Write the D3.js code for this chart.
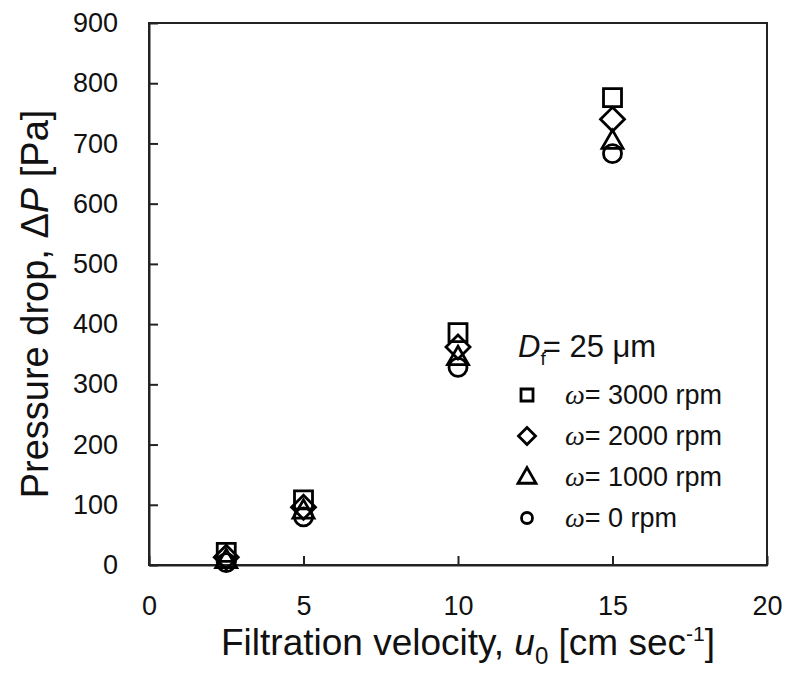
<!DOCTYPE html>
<html>
  <head>
    <meta charset="UTF-8">
    <style>
      body {
        margin: 0;
        background: #fff;
        font-family: 'Liberation Sans', Arial, sans-serif;
      }

      .tick text {
        font-size: 27px;
        fill: #111;
      }
    </style>
    <script src="https://d3js.org/d3.v7.min.js"></script>
  </head>

  <body>
    <svg id="chart"></svg>

    <script type="text/javascript">
      let velocities = [2.5, 5, 10, 15]
      let seriesNames = ['3000', '2000', '1000', '0']
      let rpm3000 = [21, 108, 386, 776]
      let rpm2000 = [13, 96, 362, 740]
      let rpm1000 = [8, 90, 345, 704]
      let rpm0 = [4, 80, 328, 683]
      let xTicks = [0, 5, 10, 15, 20]
      let yTicks = [0, 100, 200, 300, 400, 500, 600, 700, 800, 900]

      let series = [
        {name: seriesNames[0], values: rpm3000, shape: 'square'},
        {name: seriesNames[1], values: rpm2000, shape: 'diamond'},
        {name: seriesNames[2], values: rpm1000, shape: 'triangle'},
        {name: seriesNames[3], values: rpm0, shape: 'circle'},
      ]

      function getConfig() {
        let width = 788
        let height = 677
        let margin = {top: 23, bottom: 112, left: 149, right: 21}
        let bodyWidth = width - margin.left - margin.right
        let bodyHeight = height - margin.top - margin.bottom
        let container = d3.select('#chart')
          .attr('width', width)
          .attr('height', height)
        return {width, height, margin, bodyWidth, bodyHeight, container}
      }

      function getScales(config) {
        let xScale = d3.scaleLinear().domain([0, 20]).range([0, config.bodyWidth])
        let yScale = d3.scaleLinear().domain([0, 900]).range([config.bodyHeight, 0])
        return {xScale, yScale}
      }

      // marker path centred on 0,0 with size s (approx width)
      function markerPath(shape, s) {
        let h = s / 2
        if (shape == 'square') return `M${-h},${-h}H${h}V${h}H${-h}Z`
        if (shape == 'diamond') return `M0,${-h}L${h},0L0,${h}L${-h},0Z`
        if (shape == 'triangle') {
          let th = s * 0.87
          return `M0,${-th * 0.6}L${h},${th * 0.4}L${-h},${th * 0.4}Z`
        }
        return `M${-h},0A${h},${h} 0 1,0 ${h},0A${h},${h} 0 1,0 ${-h},0Z`
      }

      let plotSizes = {square: 18, diamond: 24, triangle: 21, circle: 18}
      let legendSizes = {square: 12, diamond: 17, triangle: 18, circle: 11}

      function drawAxes(scales, config) {
        let {xScale, yScale} = scales
        let {margin, container, bodyWidth, bodyHeight} = config
        let body = container.append('g')
          .attr('transform', `translate(${margin.left},${margin.top})`)

        body.append('rect')
          .attr('width', bodyWidth)
          .attr('height', bodyHeight)
          .attr('fill', 'none')
          .attr('stroke', '#222')
          .attr('stroke-width', 2)

        let axisX = d3.axisBottom(xScale)
          .tickValues(xTicks)
          .tickSizeInner(-9)
          .tickSizeOuter(0)
          .tickPadding(31)
        let gx = body.append('g')
          .attr('transform', `translate(0,${bodyHeight})`)
          .call(axisX)

        let axisY = d3.axisLeft(yScale)
          .tickValues(yTicks)
          .tickSizeInner(-9)
          .tickSizeOuter(0)
          .tickPadding(31)
        let gy = body.append('g').call(axisY)

        ;[gx, gy].forEach(g => {
          g.select('.domain').attr('stroke', '#222').attr('stroke-width', 2)
          g.selectAll('.tick line').attr('stroke', '#222').attr('stroke-width', 2)
          g.selectAll('.tick text').attr('fill', '#111')
        })
        return body
      }

      function drawPoints(body, scales) {
        let {xScale, yScale} = scales
        series.forEach(s => {
          body.append('g').selectAll('path')
            .data(s.values)
            .enter()
            .append('path')
            .attr('d', markerPath(s.shape, plotSizes[s.shape]))
            .attr('transform', (d, i) => `translate(${xScale(velocities[i])},${yScale(d)})`)
            .attr('fill', 'none')
            .attr('stroke', '#000')
            .attr('stroke-width', 2.8)
        })
      }

      function drawLegend(config) {
        let {container} = config
        let title = container.append('text')
          .attr('x', 518)
          .attr('y', 357)
          .style('font-size', '31px')
          .attr('fill', '#111')
        title.append('tspan').style('font-style', 'italic').text('D')
        title.append('tspan').attr('dy', 8).style('font-size', '19px').text('f')
        title.append('tspan').attr('dy', -8).attr('dx', -3).text('= 25 \u03bcm')

        let legend = container.selectAll('.legend')
          .data(series)
          .enter()
          .append('g')
          .attr('class', 'legend')
          .attr('transform', (d, i) => `translate(527,${395 + i * 41})`)

        legend.append('path')
          .attr('d', d => markerPath(d.shape, legendSizes[d.shape]))
          .attr('fill', 'none')
          .attr('stroke', '#000')
          .attr('stroke-width', 2.8)

        let label = legend.append('text')
          .attr('x', 38)
          .attr('y', 9)
          .style('font-size', '27px')
          .attr('fill', '#111')
        label.append('tspan')
          .style('font-family', "'Liberation Serif', serif")
          .style('font-style', 'italic')
          .style('font-size', '28px')
          .text('\u03c9')
        label.append('tspan').text(d => '= ' + d.name + ' rpm')
      }

      function drawLabels(config) {
        let {container} = config
        let xl = container.append('text')
          .attr('x', 468)
          .attr('y', 655)
          .attr('text-anchor', 'middle')
          .style('font-size', '37px')
          .attr('fill', '#111')
        xl.append('tspan').text('Filtration velocity, ')
        xl.append('tspan').style('font-style', 'italic').text('u')
        xl.append('tspan').attr('dy', 9).style('font-size', '24px').text('0')
        xl.append('tspan').attr('dy', -9).text(' [cm sec')
        xl.append('tspan').attr('dy', -14).style('font-size', '21px').text('-1')
        xl.append('tspan').attr('dy', 14).text(']')

        let yl = container.append('text')
          .attr('transform', 'translate(48,304) rotate(-90)')
          .attr('text-anchor', 'middle')
          .style('font-size', '38px')
          .attr('fill', '#111')
        yl.append('tspan').text('Pressure drop, \u0394')
        yl.append('tspan').style('font-style', 'italic').text('P')
        yl.append('tspan').text(' [Pa]')
      }

      let config = getConfig()
      let scales = getScales(config)
      let body = drawAxes(scales, config)
      drawPoints(body, scales)
      drawLegend(config)
      drawLabels(config)
    </script>
  </body>
</html>
